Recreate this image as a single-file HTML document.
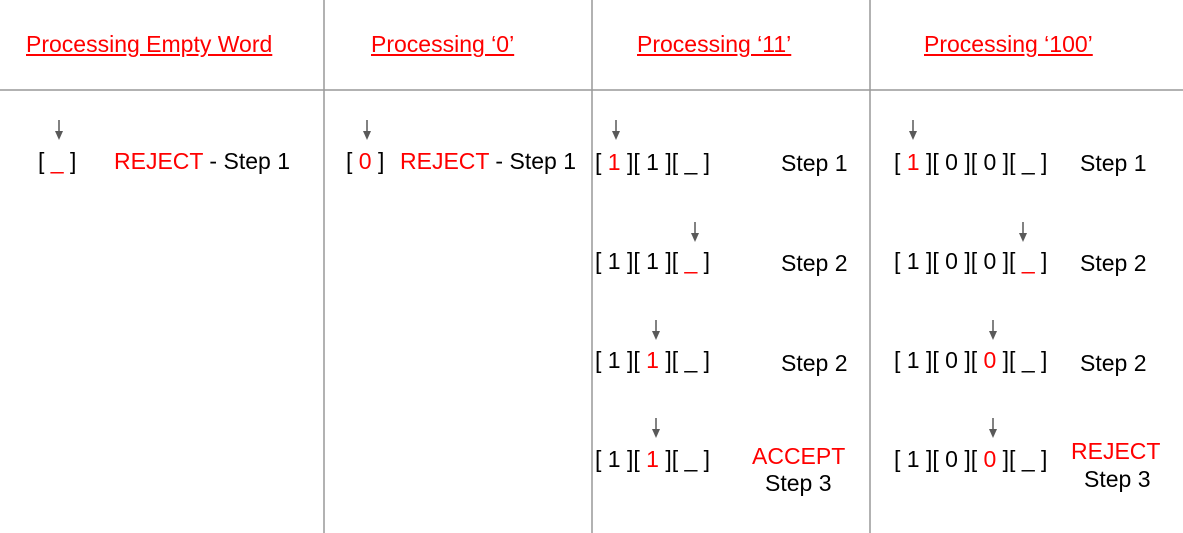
<!DOCTYPE html>
<html><head><meta charset="utf-8"><style>
body{margin:0;width:1183px;height:533px;background:#fff;position:relative;overflow:hidden;font-family:"Liberation Sans",sans-serif;font-size:23px;color:#000}
.t{position:absolute;white-space:pre;line-height:26px}
.r{color:#f00}
.h{color:#f00;text-decoration:underline}
svg{position:absolute;left:0;top:0}
</style></head><body>
<svg width="1183" height="533">
<g stroke="#999" stroke-width="1.5">
<line x1="0" y1="90" x2="1183" y2="90"/>
<line x1="324" y1="0" x2="324" y2="533"/>
<line x1="592" y1="0" x2="592" y2="533"/>
<line x1="870" y1="0" x2="870" y2="533"/>
</g>
<defs><g id="a"><line x1="0" y1="0" x2="0" y2="12" stroke="#595959" stroke-width="1.5"/><polygon points="-4,11 4,11 0,20" fill="#595959"/></g></defs>
<use href="#a" x="59" y="120"/>
<use href="#a" x="367" y="120"/>
<use href="#a" x="616" y="120"/>
<use href="#a" x="695" y="222"/>
<use href="#a" x="656" y="320"/>
<use href="#a" x="656" y="418"/>
<use href="#a" x="913" y="120"/>
<use href="#a" x="1023" y="222"/>
<use href="#a" x="993" y="320"/>
<use href="#a" x="993" y="418"/>
</svg>
<div class="t h" style="left:26px;top:31px">Processing Empty Word</div>
<div class="t h" style="left:371px;top:31px">Processing ‘0’</div>
<div class="t h" style="left:637px;top:31px">Processing ‘11’</div>
<div class="t h" style="left:924px;top:31px">Processing ‘100’</div>

<div class="t" style="left:38px;top:148px">[ <span class="r">_</span> ]</div>
<div class="t" style="left:114px;top:148px"><span class="r">REJECT</span> - Step 1</div>
<div class="t" style="left:346px;top:148px">[ <span class="r">0</span> ]</div>
<div class="t" style="left:400px;top:148px"><span class="r">REJECT</span> - Step 1</div>

<div class="t" style="left:595px;top:149px">[ <span class="r">1</span> ][ 1 ][ _ ]</div>
<div class="t" style="left:595px;top:248px">[ 1 ][ 1 ][ <span class="r">_</span> ]</div>
<div class="t" style="left:595px;top:347px">[ 1 ][ <span class="r">1</span> ][ _ ]</div>
<div class="t" style="left:595px;top:446px">[ 1 ][ <span class="r">1</span> ][ _ ]</div>
<div class="t" style="left:781px;top:150px">Step 1</div>
<div class="t" style="left:781px;top:250px">Step 2</div>
<div class="t" style="left:781px;top:350px">Step 2</div>
<div class="t r" style="left:752px;top:443px">ACCEPT</div>
<div class="t" style="left:765px;top:470px">Step 3</div>

<div class="t" style="left:894px;top:149px">[ <span class="r">1</span> ][ 0 ][ 0 ][ _ ]</div>
<div class="t" style="left:894px;top:248px">[ 1 ][ 0 ][ 0 ][ <span class="r">_</span> ]</div>
<div class="t" style="left:894px;top:347px">[ 1 ][ 0 ][ <span class="r">0</span> ][ _ ]</div>
<div class="t" style="left:894px;top:446px">[ 1 ][ 0 ][ <span class="r">0</span> ][ _ ]</div>
<div class="t" style="left:1080px;top:150px">Step 1</div>
<div class="t" style="left:1080px;top:250px">Step 2</div>
<div class="t" style="left:1080px;top:350px">Step 2</div>
<div class="t r" style="left:1071px;top:438px">REJECT</div>
<div class="t" style="left:1084px;top:466px">Step 3</div>
</body></html>
